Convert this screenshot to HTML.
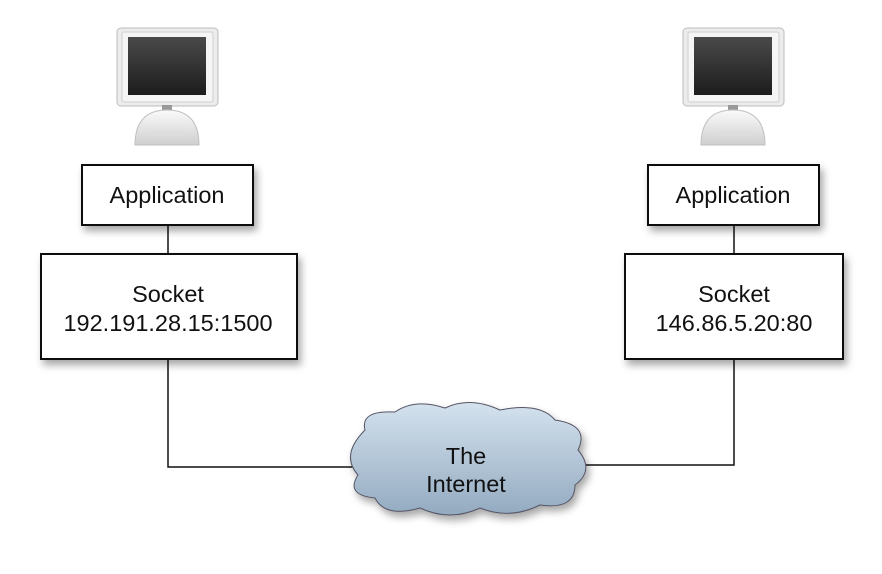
<!DOCTYPE html>
<html><head><meta charset="utf-8"><style>
html,body{margin:0;padding:0;background:#fff;}
svg{display:block;font-family:"Liberation Sans",Arial,sans-serif;}
</style></head><body>
<svg width="882" height="574" viewBox="0 0 882 574" xmlns="http://www.w3.org/2000/svg">
<defs>
<filter id="sh" x="-20%" y="-20%" width="150%" height="160%"><feDropShadow dx="3" dy="5" stdDeviation="4" flood-color="#000" flood-opacity="0.35"/></filter>
<linearGradient id="cl" x1="0" y1="0" x2="0" y2="1"><stop offset="0" stop-color="#d4e2ee"/><stop offset="1" stop-color="#93aac0"/></linearGradient>
<linearGradient id="dome" x1="0" y1="0" x2="0" y2="1"><stop offset="0" stop-color="#fafafa"/><stop offset="1" stop-color="#cfcfcf"/></linearGradient>
<linearGradient id="scr" x1="0" y1="0" x2="0" y2="1"><stop offset="0" stop-color="#4a4a4a"/><stop offset="1" stop-color="#1c1c1c"/></linearGradient>
<g id="pc">
<rect x="0" y="0" width="101" height="78" rx="4" fill="#ececec" stroke="#bdbdbd"/>
<rect x="5" y="4" width="91" height="70" rx="2" fill="#f5f5f5" stroke="#d0d0d0"/>
<rect x="11" y="9" width="78" height="58" fill="url(#scr)"/>
<rect x="45" y="77" width="10" height="5" fill="#999"/>
<path d="M18 117 Q18 82 50 82 Q82 82 82 117 Z" fill="url(#dome)" stroke="#c0c0c0"/>
<rect x="32" y="104" width="36" height="4" fill="#ddd"/>
</g>
</defs>
<use href="#pc" x="117" y="28"/>
<use href="#pc" x="683" y="28"/>
<g stroke="#111" stroke-width="1.5" fill="none">
<line x1="168" y1="225" x2="168" y2="254"/>
<polyline points="168,359 168,467 358,467"/>
<line x1="734" y1="225" x2="734" y2="254"/>
<polyline points="734,359 734,465 576,465"/>
</g>
<g filter="url(#sh)" fill="#fff" stroke="#111" stroke-width="2">
<rect x="82" y="165" width="171" height="60"/>
<rect x="41" y="254" width="256" height="105"/>
<rect x="648" y="165" width="171" height="60"/>
<rect x="625" y="254" width="218" height="105"/>
</g>
<path filter="url(#sh)" d="M365 430 Q360 410 395 412 Q415 398 445 408 Q470 396 500 410 Q540 402 555 420 Q590 425 578 450 Q595 470 575 485 Q575 510 540 505 Q510 520 480 508 Q450 522 420 508 Q385 518 375 498 Q345 495 358 475 Q340 455 365 430 Z" fill="url(#cl)" stroke="#556" stroke-width="1"/>
<g font-size="23.5" fill="#111" text-anchor="middle">
<text x="167" y="203">Application</text>
<text x="733" y="203">Application</text>
<text x="168" y="302">Socket</text>
<text x="168" y="331">192.191.28.15:1500</text>
<text x="734" y="302">Socket</text>
<text x="734" y="331">146.86.5.20:80</text>
<text x="466" y="464">The</text>
<text x="466" y="492">Internet</text>
</g>
</svg>
</body></html>
